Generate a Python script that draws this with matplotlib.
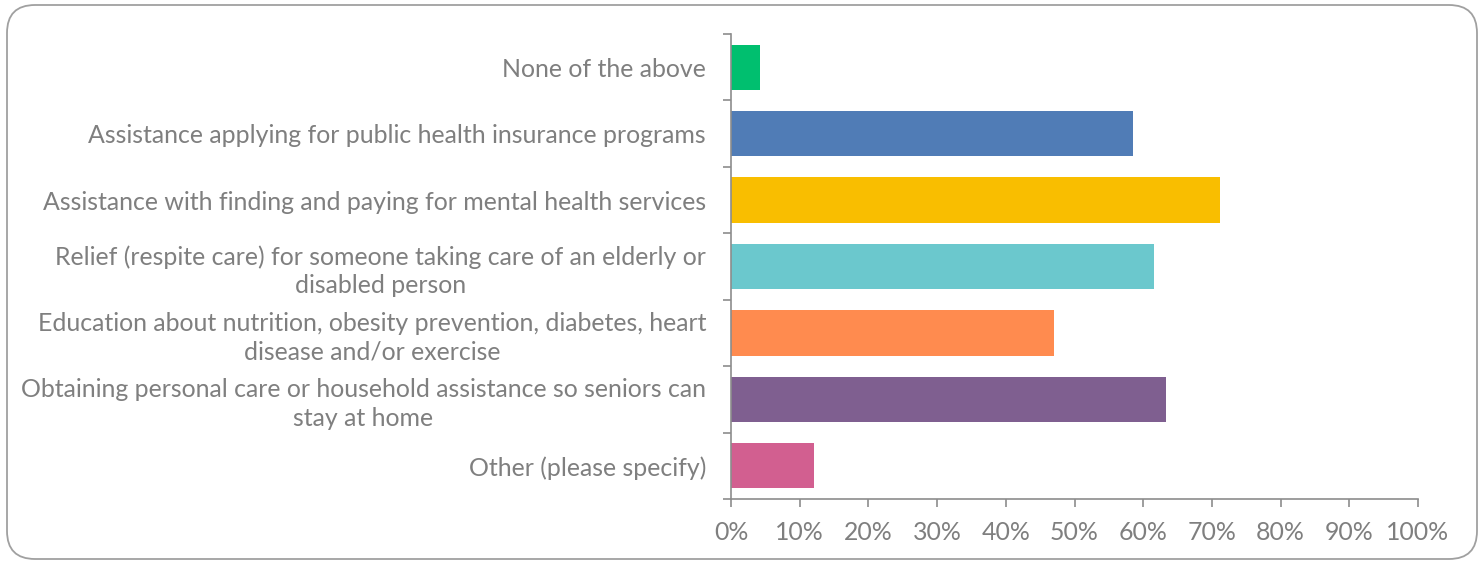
import matplotlib.pyplot as plt
import matplotlib.patches as mpatches
import numpy as np

categories = [
    "None of the above",
    "Assistance applying for public health insurance programs",
    "Assistance with finding and paying for mental health services",
    "Relief (respite care) for someone taking care of an elderly or\ndisabled person",
    "Education about nutrition, obesity prevention, diabetes, heart\ndisease and/or exercise",
    "Obtaining personal care or household assistance so seniors can\nstay at home",
    "Other (please specify)",
]
values = [4.2, 58.5, 71.2, 61.6, 47.0, 63.3, 12.1]
colors = ["#00BF6F", "#507CB6", "#F9BE00", "#6BC8CD", "#FF8B4F", "#7F5F90", "#D25F90"]
xticks = list(range(0, 101, 10))
xticklabels = [f"{t}%" for t in xticks]

plt.rcParams['font.family'] = ['Lato', 'DejaVu Sans']
textc = "#7f7f7f"
axc = "#8c8c8c"

W, H = 1482, 563
fig = plt.figure(figsize=(W / 100, H / 100), dpi=100)

# background axes in pixel coordinates for the rounded border
bg = fig.add_axes([0, 0, 1, 1], zorder=-5)
bg.set_xlim(0, W)
bg.set_ylim(H, 0)
bg.axis("off")
border = mpatches.FancyBboxPatch((7, 5), 1477 - 7, 559 - 5,
                                 boxstyle="round,pad=0,rounding_size=28",
                                 facecolor="white", edgecolor="#a0a0a0", linewidth=1.3)
bg.add_patch(border)

ax = fig.add_axes([731 / W, 1 - 499 / H, (1418 - 731) / W, (499 - 34) / H])
ax.set_facecolor("none")
y = np.arange(len(categories))
ax.barh(y, values, height=0.68, color=colors)
ax.set_ylim(len(categories) - 0.5, -0.5)
ax.set_xlim(0, 100)
ax.set_yticks(y)
ax.set_yticklabels(categories, fontsize=17.9, color=textc, linespacing=1.3)
for lbl in ax.get_yticklabels():
    lbl.set_multialignment("center")
ax.set_yticks(np.arange(-0.5, len(categories) + 0.5, 1), minor=True)
ax.tick_params(axis="y", which="major", length=0, pad=18)
ax.tick_params(axis="y", which="minor", length=6, color=axc, width=1.2)
ax.set_xticks(xticks)
ax.set_xticklabels(xticklabels, fontsize=17.9, color=textc)
ax.tick_params(axis="x", length=6, color=axc, width=1.2, pad=10)
for s in ["top", "right"]:
    ax.spines[s].set_visible(False)
for s in ["left", "bottom"]:
    ax.spines[s].set_color(axc)
    ax.spines[s].set_linewidth(1.2)

fig.savefig("out.png", dpi=100)
